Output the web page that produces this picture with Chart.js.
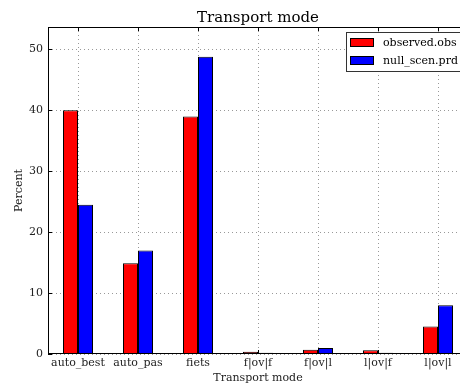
<!DOCTYPE html>
<html>
<head>
<meta charset="utf-8">
<script src="https://cdn.jsdelivr.net/npm/chart.js@4.4.1/dist/chart.umd.min.js"></script>
<style>
  html, body { margin: 0; padding: 0; background: #fff; overflow: hidden; }
  #wrap { width: 460px; height: 385px; overflow: hidden; position: relative; }
  #c { position: absolute; left: 0; top: 0; }
</style>
</head>
<body>
<div id="wrap"><canvas id="c" width="480" height="385"></canvas></div>
<script>
// Share of trips by transport mode: observed vs. null scenario prediction
const categories = ['auto_best', 'auto_pas', 'fiets', 'f|ov|f', 'f|ov|l', 'l|ov|f', 'l|ov|l'];
const observedObs = [40.0, 14.9, 39.0, 0.35, 0.7, 0.6, 4.5];
const nullScenPrd = [24.5, 17.0, 48.8, 0.2, 1.0, 0.2, 8.0];
const seriesNames = ['observed.obs', 'null_scen.prd'];
const yTicks = [0, 10, 20, 30, 40, 50];

const SERIF = '"DejaVu Serif", "Liberation Serif", serif';
const yMax = Math.max(...observedObs, ...nullScenPrd) * 1.1;

// Frame, inward tick marks, title and boxed legend inside the axes
const framePlugin = {
  id: 'frame',
  afterDatasetsDraw(chart) {
    const { ctx, chartArea: a, scales } = chart;
    ctx.save();
    ctx.strokeStyle = '#000';
    ctx.lineWidth = 1;
    ctx.strokeRect(a.left + 0.5, a.top + 0.5, a.right - a.left - 1, a.bottom - a.top - 1);
    // tick marks pointing inward
    const tl = 4;
    ctx.beginPath();
    scales.y.ticks.forEach(t => {
      const y = Math.round(scales.y.getPixelForValue(t.value)) + 0.5;
      ctx.moveTo(a.left, y); ctx.lineTo(a.left + tl, y);
      ctx.moveTo(a.right, y); ctx.lineTo(a.right - tl, y);
    });
    categories.forEach((c, i) => {
      const x = Math.round(scales.x.getPixelForValue(i)) + 0.5;
      ctx.moveTo(x, a.bottom); ctx.lineTo(x, a.bottom - tl);
      ctx.moveTo(x, a.top); ctx.lineTo(x, a.top + tl);
    });
    ctx.stroke();

    // title
    ctx.fillStyle = '#000';
    ctx.font = '15px ' + SERIF;
    ctx.textAlign = 'center';
    ctx.textBaseline = 'alphabetic';
    ctx.fillText('Transport mode', (a.left + a.right) / 2, a.top - 5);

    // legend
    const bx = 346, by = a.top + 5, bw = a.right - 5 - bx, bh = 39;
    ctx.fillStyle = '#fff';
    ctx.fillRect(bx, by, bw, bh);
    ctx.strokeStyle = '#333';
    ctx.strokeRect(bx + 0.5, by + 0.5, bw, bh);
    ctx.font = '11px ' + SERIF;
    ctx.textAlign = 'left';
    ctx.textBaseline = 'middle';
    chart.data.datasets.forEach((ds, i) => {
      const sy = by + 6 + i * 18;
      ctx.fillStyle = ds.backgroundColor;
      ctx.fillRect(bx + 4.5, sy + 0.5, 23, 8);
      ctx.strokeStyle = '#000';
      ctx.strokeRect(bx + 4.5, sy + 0.5, 23, 8);
      ctx.fillStyle = '#000';
      ctx.fillText(ds.label, bx + 37, sy + 5);
    });
    ctx.restore();
  }
};

new Chart(document.getElementById('c'), {
  type: 'bar',
  data: {
    labels: categories,
    datasets: [
      { label: seriesNames[0], data: observedObs, backgroundColor: '#ff0000', borderColor: '#000', borderWidth: 1 },
      { label: seriesNames[1], data: nullScenPrd, backgroundColor: '#0000ff', borderColor: '#000', borderWidth: 1 }
    ]
  },
  options: {
    responsive: false,
    animation: false,
    devicePixelRatio: 1,
    layout: { padding: { top: 27, right: 12, left: 0, bottom: 0 } },
    datasets: { bar: { categoryPercentage: 0.5, barPercentage: 1.0 } },
    plugins: { legend: { display: false }, title: { display: false }, tooltip: { enabled: false } },
    scales: {
      x: {
        offset: true,
        grid: { offset: false, color: 'rgba(0,0,0,0.4)', tickLength: 0, drawTicks: false },
        border: { display: false, dash: [1, 3] },
        ticks: { color: '#222', font: { family: SERIF, size: 11 }, padding: 3, maxRotation: 0, autoSkip: false },
        title: { display: true, text: 'Transport mode', color: '#222', font: { family: SERIF, size: 11 }, padding: { top: 3, bottom: 0 } },
        afterFit(s) { s.height = 31; }
      },
      y: {
        min: 0,
        max: yMax,
        afterBuildTicks(s) { s.ticks = yTicks.map(v => ({ value: v })); },
        grid: { color: 'rgba(0,0,0,0.4)', tickLength: 0, drawTicks: false },
        border: { display: false, dash: [1, 3] },
        ticks: { color: '#222', font: { family: SERIF, size: 11 }, padding: 5 },
        title: { display: true, text: 'Percent', color: '#222', font: { family: SERIF, size: 11 }, padding: { top: 13, bottom: 0 } },
        afterFit(s) { s.width = 48; }
      }
    }
  },
  plugins: [framePlugin]
});
</script>
</body>
</html>
